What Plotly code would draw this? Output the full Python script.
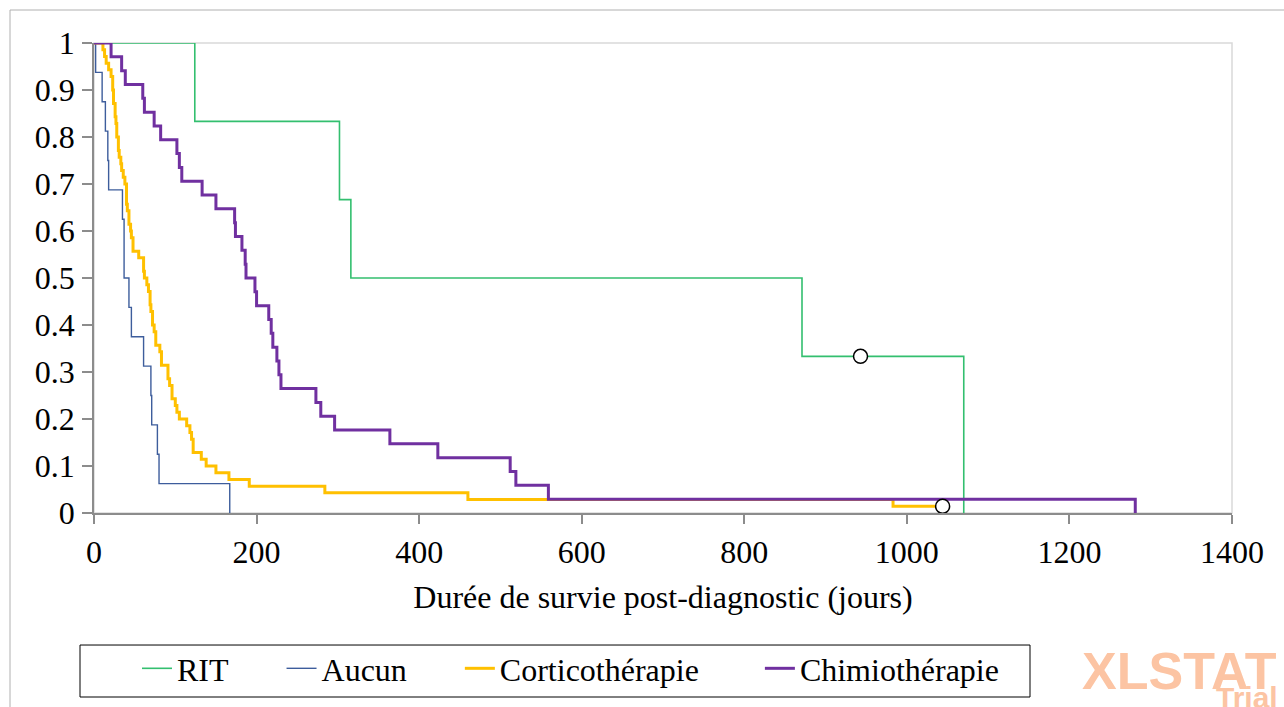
import plotly.graph_objects as go

# ---- data ----
series_names = ["RIT", "Aucun", "Corticothérapie", "Chimiothérapie"]

rit_t = [0, 124, 302, 316, 871, 1070]
rit_s = [1, 0.8333, 0.6667, 0.5, 0.3333, 0]

aucun_t = [0, 2, 10, 14, 17, 18, 35, 37, 43, 46, 61, 70, 71, 78, 80, 167]
aucun_s = [1, 0.9375, 0.875, 0.8125, 0.75, 0.6875, 0.625, 0.5, 0.4375, 0.375,
           0.3125, 0.25, 0.1875, 0.125, 0.0625, 0]

cortico_t = [0, 11, 13, 15, 18, 21, 23, 24, 26, 27,
             28, 30, 31, 33, 34, 36, 38, 40, 41, 43,
             45, 46, 48, 55, 61, 62, 65, 67, 69, 70,
             72, 74, 76, 81, 83, 91, 93, 96, 100, 102,
             105, 114, 118, 120, 122, 132, 138, 150, 166, 191,
             284, 460, 983, 1044]
cortico_s = [1, 0.9857, 0.9714, 0.9571, 0.9429, 0.9286, 0.9, 0.8714, 0.8429, 0.8286,
             0.8, 0.7714, 0.7571, 0.7429, 0.7286, 0.7143, 0.7, 0.6571, 0.6429, 0.6143,
             0.6, 0.5857, 0.5571, 0.5429, 0.5143, 0.5, 0.4857, 0.4714, 0.4429, 0.4286,
             0.4, 0.3857, 0.3571, 0.3429, 0.3143, 0.2857, 0.2714, 0.2429, 0.2286, 0.2143,
             0.2, 0.1857, 0.1714, 0.1571, 0.1286, 0.1143, 0.1, 0.0857, 0.0714, 0.0571,
             0.0429, 0.0286, 0.0143, 0.0143]

chimio_t = [0, 21, 34, 38.5, 60, 62, 74, 82, 102, 105, 108, 133, 150, 173, 174,
            182, 186, 187, 198, 200, 215, 218, 220, 225, 227.5, 230, 273, 279, 296,
            364, 423, 512, 519, 559, 1281]
chimio_s = [1, 0.9706, 0.9412, 0.9118, 0.8824, 0.8529, 0.8235, 0.7941, 0.7647, 0.7353,
            0.7059, 0.6765, 0.6471, 0.6176, 0.5882, 0.5588, 0.5294, 0.5, 0.4706, 0.4412,
            0.4118, 0.3824, 0.3529, 0.3235, 0.2941, 0.2647, 0.2353, 0.2059, 0.1765,
            0.1471, 0.1176, 0.0882, 0.0588, 0.0294, 0]

censor_t = [943, 1044]
censor_s = [0.3333, 0.0143]

x_ticks = [0, 200, 400, 600, 800, 1000, 1200, 1400]
y_ticks = [0, 0.1, 0.2, 0.3, 0.4, 0.5, 0.6, 0.7, 0.8, 0.9, 1]

colors = ["#33bf6f", "#3d5d9c", "#ffc000", "#7030a0"]
widths = [1.6, 1.4, 3, 3]

FONT = "Liberation Serif"
NB = "\u00a0"
legend_pad = [6, 6, 7, 3]

fig = go.Figure()
data = [(rit_t, rit_s), (aucun_t, aucun_s), (cortico_t, cortico_s), (chimio_t, chimio_s)]
for i, (name, (t, s)) in enumerate(zip(series_names, data)):
    fig.add_trace(go.Scatter(
        x=t, y=s, mode="lines", name=name + NB * legend_pad[i],
        line=dict(color=colors[i], width=widths[i], shape="hv"),
        hoverinfo="skip"))

fig.add_trace(go.Scatter(
    x=censor_t, y=censor_s, mode="markers", showlegend=False,
    marker=dict(symbol="circle", size=14, color="white",
                line=dict(color="black", width=1.5)),
    hoverinfo="skip"))

axis_col = "#8c8c8c"
tickfont = dict(family=FONT, size=32, color="black")
fig.update_layout(
    width=1284, height=707,
    margin=dict(l=94, r=52, t=43, b=194, autoexpand=False),
    paper_bgcolor="white", plot_bgcolor="white",
    font=dict(family=FONT, size=32, color="black"),
    showlegend=True,
    xaxis=dict(range=[0, 1400], tickvals=x_ticks, ticks="outside", ticklen=9,
               tickcolor=axis_col, tickwidth=1.5, showline=True, linecolor=axis_col,
               linewidth=1.5, showgrid=False, zeroline=False, tickfont=tickfont,
               ticklabelstandoff=1, automargin=False,
               title=dict(text="Durée de survie post-diagnostic (jours)",
                          font=dict(family=FONT, size=32), standoff=16)),
    yaxis=dict(range=[0, 1], tickvals=y_ticks, ticks="outside", ticklen=10,
               tickcolor=axis_col, tickwidth=1.5, showline=True, linecolor=axis_col,
               linewidth=1.5, showgrid=False, zeroline=False, tickfont=tickfont,
               ticklabelstandoff=1, automargin=False),
    xaxis2=dict(overlaying="x", matches="x", anchor="y", side="bottom",
                tickvals=x_ticks, ticks="inside", ticklen=10, tickcolor=axis_col,
                tickwidth=1.5, showticklabels=False, showline=False, showgrid=False,
                zeroline=False),
    yaxis2=dict(overlaying="y", matches="y", anchor="x", side="left",
                tickvals=y_ticks, ticks="inside", ticklen=9, tickcolor=axis_col,
                tickwidth=1.5, showticklabels=False, showline=False, showgrid=False,
                zeroline=False),
    legend=dict(orientation="h", x=-0.0044, y=-0.3362, xanchor="left", yanchor="middle",
                bgcolor="rgba(0,0,0,0)", borderwidth=0,
                font=dict(family=FONT, size=32),
                title=dict(text=NB * 4, side="left")),
    shapes=[
        dict(type="rect", xref="paper", yref="paper", x0=0, x1=1, y0=0, y1=1,
             line=dict(color="#d9d9d9", width=1.5), layer="below"),
        dict(type="rect", xref="paper", yref="paper", x0=-0.0738, x1=1.06,
             y0=-0.45, y1=1.0702, line=dict(color="#b0b0b0", width=1), layer="below"),
        # legend frame
        dict(type="rect", xref="paper", yref="paper", x0=-0.0123, x1=0.8225,
             y0=-0.3915, y1=-0.2809, line=dict(color="black", width=1),
             fillcolor="white", layer="below"),
    ],
    annotations=[
        dict(text="<b>XLSTAT</b>", xref="paper", yref="paper", x=0.866, y=-0.336,
             xanchor="left", yanchor="middle", showarrow=False,
             font=dict(family="Liberation Sans", size=52, color="#fcc4a3")),
        dict(text="<b>Trial</b>", xref="paper", yref="paper", x=0.984, y=-0.392,
             xanchor="left", yanchor="middle", showarrow=False,
             font=dict(family="Liberation Sans", size=30, color="#fcc4a3")),
    ],
)

fig.write_html("out.html", config={"displayModeBar": False},
               post_script="document.body.style.margin='0';")
